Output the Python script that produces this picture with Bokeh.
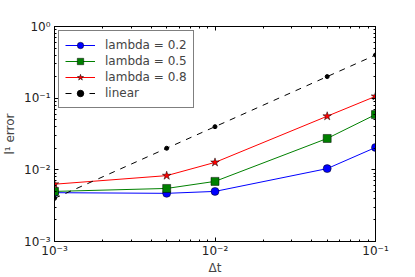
import numpy as np
from bokeh.plotting import figure
from bokeh.models import LogAxis, FixedTicker, CustomJSTickFormatter, Legend, LegendItem
from bokeh.embed import file_html
from bokeh.resources import INLINE

# ---- data ----
dt = [0.001, 0.005, 0.01, 0.05, 0.1]
err_lambda_02 = [0.0048, 0.0047, 0.0050, 0.0104, 0.0205]
err_lambda_05 = [0.0050, 0.0055, 0.0069, 0.0274, 0.059]
err_lambda_08 = [0.0063, 0.0083, 0.0127, 0.056, 0.106]
linear = [0.004, 0.02, 0.04, 0.2, 0.4]
labels = ["lambda = 0.2", "lambda = 0.5", "lambda = 0.8", "linear"]
x_major = [1e-3, 1e-2, 1e-1]
y_major = [1e-3, 1e-2, 1e-1, 1e0]

def minors(lo_exp, hi_exp):
    out = []
    for e in range(lo_exp, hi_exp):
        for m in range(2, 10):
            out.append(m * 10.0 ** e)
    return out

p = figure(x_axis_type="log", y_axis_type="log",
           x_range=(1e-3, 1e-1), y_range=(1e-3, 1e0),
           frame_width=321, frame_height=215,
           min_border_left=44, min_border_right=30,
           min_border_top=26, min_border_bottom=20,
           output_backend="svg", toolbar_location=None)
p.grid.visible = False
p.outline_line_color = "black"
p.outline_line_width = 1
p.background_fill_color = "white"
p.border_fill_color = "white"

fmt = CustomJSTickFormatter(code="""
const e = Math.round(Math.log10(tick));
const sup = {'-':'\u207b','0':'\u2070','1':'\u00b9','2':'\u00b2','3':'\u00b3','4':'\u2074','5':'\u2075','6':'\u2076','7':'\u2077','8':'\u2078','9':'\u2079'};
return '10' + String(e).split('').map(c => sup[c]).join('');
""")
blank = CustomJSTickFormatter(code="return '';")

def style_axis(ax, ticks, minor, show):
    ax.ticker = FixedTicker(ticks=ticks, minor_ticks=minor)
    ax.formatter = fmt if show else blank
    ax.major_tick_in = 4
    ax.major_tick_out = 0
    ax.minor_tick_in = 2
    ax.minor_tick_out = 0
    ax.major_tick_line_color = "black"
    ax.minor_tick_line_color = "black"
    ax.axis_line_color = "black"
    ax.major_label_text_font = "DejaVu Sans"
    ax.major_label_text_font_size = "12px"
    ax.major_label_text_color = "#222222"
    ax.major_label_standoff = 4
    ax.axis_label_text_font = "DejaVu Sans"
    ax.axis_label_text_font_size = "12px"
    ax.axis_label_text_font_style = "normal"
    ax.axis_label_standoff = 4

xm = minors(-3, -1)
ym = minors(-3, 0)
style_axis(p.xaxis[0], x_major, xm, True)
style_axis(p.yaxis[0], y_major, ym, True)
p.xaxis[0].axis_label = "\u0394t"
p.xaxis[0].major_label_standoff = 2
p.xaxis[0].axis_label_standoff = 0
p.yaxis[0].axis_label = "l\u00b9 error"

top = LogAxis()
style_axis(top, x_major, xm, False)
top.major_label_text_font_size = "0px"
right = LogAxis()
style_axis(right, y_major, ym, False)
right.major_label_text_font_size = "0px"
p.add_layout(top, "above")
p.add_layout(right, "right")

l1 = p.line(dt, err_lambda_02, line_color="blue", line_width=1)
m1 = p.scatter(dt, err_lambda_02, marker="circle", size=8, fill_color="blue", line_color="black", line_width=0.5)
l2 = p.line(dt, err_lambda_05, line_color="green", line_width=1)
m2 = p.scatter(dt, err_lambda_05, marker="square", size=8, fill_color="green", line_color="black", line_width=0.5)
l3 = p.line(dt, err_lambda_08, line_color="red", line_width=1)
m3 = p.scatter(dt, err_lambda_08, marker="star", size=9, fill_color="red", line_color="black", line_width=0.5)
l4 = p.line(dt, linear, line_color="black", line_width=1, line_dash="6 6")
m4 = p.scatter(dt, linear, marker="circle", size=4, fill_color="black", line_color="black")

legend = Legend(items=[
    LegendItem(label=labels[0], renderers=[l1, m1]),
    LegendItem(label=labels[1], renderers=[l2, m2]),
    LegendItem(label=labels[2], renderers=[l3, m3]),
    LegendItem(label=labels[3], renderers=[l4, m4]),
], location="top_left")
legend.label_text_font = "DejaVu Sans"
legend.label_text_font_size = "12px"
legend.border_line_color = "black"
legend.border_line_width = 1
legend.background_fill_alpha = 1
legend.margin = 4
legend.padding = 6
legend.spacing = 0
legend.glyph_width = 30
legend.glyph_height = 16
legend.label_height = 16
legend.label_standoff = 10
p.add_layout(legend, "center")

open("out.html", "w").write(file_html(p, INLINE))
